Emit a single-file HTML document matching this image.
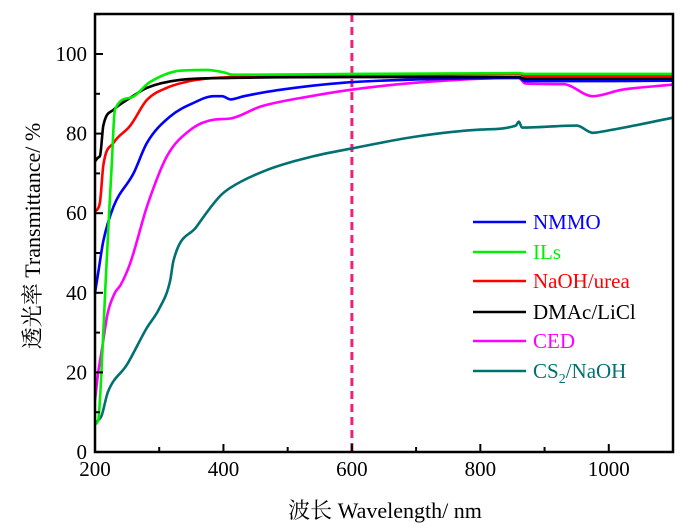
<!DOCTYPE html>
<html><head><meta charset="utf-8"><style>
html,body{margin:0;padding:0;background:#fff;}
svg{display:block;font-family:"Liberation Serif","Noto Serif CJK SC",serif;}
</style></head><body>
<svg id="chart" width="700" height="532" viewBox="0 0 700 532" xmlns="http://www.w3.org/2000/svg">
<g id="series"></g>
<g id="axes"></g>
<g id="legend"></g>
<text x="385" y="518" font-size="22" text-anchor="middle">波长 Wavelength/ nm</text>
<text transform="translate(40,236) rotate(-90)" font-size="22" text-anchor="middle">透光率 Transmittance/ %</text>
</svg>
<script>
const xTicks = [200,400,600,800,1000];
const yTicks = [0,20,40,60,80,100];
const seriesNames = ["NMMO","ILs","NaOH/urea","DMAc/LiCl","CED","CS2/NaOH"];
const seriesColors = ["#0000ff","#00ee00","#ff0000","#000000","#ff00ff","#007070"];
const nmmoX = [200,205,213,229,260,281,317,353,385,398,411,432,484,588,700,860,870,1000,1100];
const nmmoY = [40,45,53,61.7,70,77.7,84.3,87.7,89.4,89.4,88.6,89.4,90.9,92.8,93.6,94,93.2,93.2,93.3];
const ilsX = [200,205,210,216,222,226,231,255,286,332,374,400,415,450,600,860,870,1100];
const ilsY = [7,8,20,41,60,72,86,89,93,95.8,96,95.4,94.8,94.8,95,95.2,95,95];
const naohX = [200,204,208,213,229,255,281,312,358,410,500,700,860,870,1100];
const naohY = [60.5,61,63,72,77.7,82,88.5,91.5,93.5,94.2,94.5,94.7,95,94.5,94.5];
const dmacX = [200,205,208,213,229,255,281,332,410,600,860,870,1100];
const dmacY = [73,74,74.5,82,86,89,91.5,93.5,94,94.2,94.2,93.8,93.8];
const cedX = [200,205,210,220,231,240,255,281,312,349,385,411,458,536,598,700,860,870,930,975,1020,1100];
const cedY = [13,20,25,35,40,42,47.5,61.7,74.3,81,83.5,83.8,86.8,89.4,91,92.8,94,92.6,92.4,89.4,91,92.3];
const cs2X = [200,205,210,220,250,280,300,317,322,358,394,410,462,540,598,702,800,855,860,865,950,975,1000,1100];
const cs2Y = [7,8,9,15,22,31,36,43,48,56.6,64.2,66.3,70.5,74.3,76.2,79.3,81,82,83,81.5,82,80.2,80.8,84];
const allX = [nmmoX,ilsX,naohX,dmacX,cedX,cs2X];
const allY = [nmmoY,ilsY,naohY,dmacY,cedY,cs2Y];
const refLineX = 600;

const L=95,R=673,T=14,B=452;
const xs = v => L + (v-200)*(R-L)/900;
const ys = v => B - v*(B-54)/100;
const NS="http://www.w3.org/2000/svg";
function mk(tag, attrs, parent){const e=document.createElementNS(NS,tag);for(const k in attrs)e.setAttribute(k,attrs[k]);parent.appendChild(e);return e;}
const sg=document.getElementById('series'), ag=document.getElementById('axes'), lg=document.getElementById('legend');

function monoPath(px,py){
  const n=px.length, d=[], m=[];
  for(let i=0;i<n-1;i++) d.push((py[i+1]-py[i])/(px[i+1]-px[i]));
  m.push(d[0]);
  for(let i=1;i<n-1;i++) m.push(d[i-1]*d[i]<=0?0:(d[i-1]+d[i])/2);
  m.push(d[n-2]);
  for(let i=0;i<n-1;i++){
    if(d[i]===0){m[i]=0;m[i+1]=0;continue;}
    const a=m[i]/d[i], b=m[i+1]/d[i], s=a*a+b*b;
    if(s>9){const t=3/Math.sqrt(s);m[i]=t*a*d[i];m[i+1]=t*b*d[i];}
  }
  let s='M'+px[0].toFixed(1)+','+py[0].toFixed(1);
  for(let i=0;i<n-1;i++){
    const h=(px[i+1]-px[i])/3;
    s+=' C'+(px[i]+h).toFixed(1)+','+(py[i]+m[i]*h).toFixed(1)+' '+(px[i+1]-h).toFixed(1)+','+(py[i+1]-m[i+1]*h).toFixed(1)+' '+px[i+1].toFixed(1)+','+py[i+1].toFixed(1);
  }
  return s;
}

const dl = mk('line',{x1:xs(refLineX),x2:xs(refLineX),y1:T,y2:B,stroke:'#f0207a','stroke-width':3,'stroke-dasharray':'8,5'},sg);



const order=[5,4,0,2,3,1];
order.forEach(i=>{
  const px=allX[i].map(xs), py=allY[i].map(ys);
  const p = mk('path',{d:monoPath(px,py),fill:'none',stroke:seriesColors[i],'stroke-width':2.6,'stroke-linejoin':'round'},sg);
  
  
});

const fr = mk('rect',{x:L,y:T,width:R-L,height:B-T,fill:'none',stroke:'#000','stroke-width':2.5},ag);


for(let v=200; v<=1100; v+=100){
  const major = xTicks.includes(v);
  const t = mk('line',{x1:xs(v),x2:xs(v),y1:B,y2:B-(major?8:5),stroke:'#000','stroke-width':2},ag);
  
  
}
xTicks.forEach(v=>{
  const t=mk('text',{x:xs(v),y:B+24,'font-size':21,'text-anchor':'middle'},ag);
  t.textContent=v;
  
  
});
for(let v=0; v<=110; v+=10){
  const major = yTicks.includes(v);
  const t = mk('line',{x1:L,x2:L+(major?8:5),y1:ys(v),y2:ys(v),stroke:'#000','stroke-width':2},ag);
  
  
}
yTicks.forEach(v=>{
  const t=mk('text',{x:L-8,y:ys(v)+7,'font-size':21,'text-anchor':'end'},ag);
  t.textContent=v;
  
  
});

const legY=[222,252,281,312,341,371];
seriesNames.forEach((n,i)=>{
  const ln=mk('line',{x1:473,x2:526,y1:legY[i],y2:legY[i],stroke:seriesColors[i],'stroke-width':2.6},lg);
  
  
  const t=mk('text',{x:533,y:legY[i]+7,'font-size':21,fill:seriesColors[i]},lg);
  if(n==="CS2/NaOH"){
    t.appendChild(document.createTextNode('CS'));
    const s=mk('tspan',{'font-size':14,dy:5},t); s.textContent='2';
    const s2=mk('tspan',{dy:-5},t); s2.textContent='/NaOH';
  } else t.textContent=n;
  
  
});
</script>
</body></html>
